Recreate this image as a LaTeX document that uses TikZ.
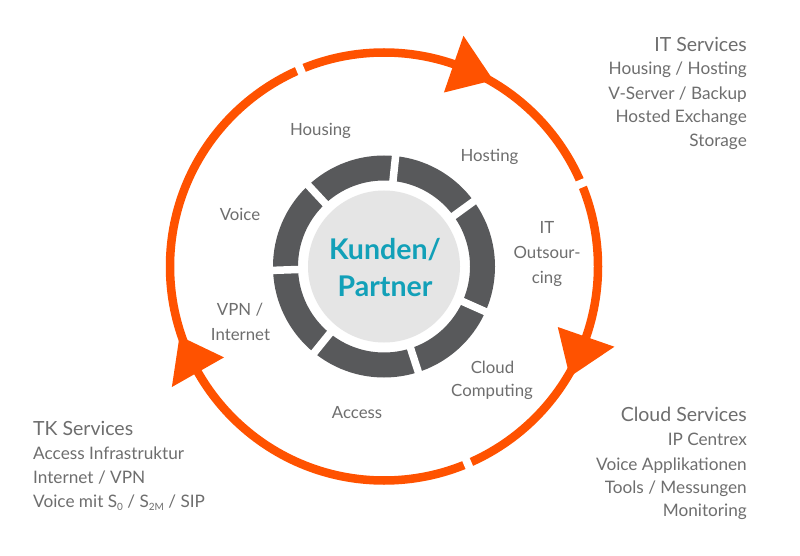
\documentclass[tikz,border=0pt]{standalone}
\usepackage{fontspec}
\setmainfont{Lato}
\usetikzlibrary{calc}
\definecolor{orng}{HTML}{FF5200}
\definecolor{segdark}{HTML}{58595B}
\definecolor{hubgray}{HTML}{E5E5E5}
\definecolor{teal}{HTML}{12A0B8}
\definecolor{txtgray}{HTML}{6E6E6E}
\tikzset{
  seglabel/.style={text=txtgray, font=\fontsize{16.8}{19}\selectfont, anchor=base, inner sep=0pt},
  headl/.style={text=txtgray, font=\fontsize{19.5}{22}\selectfont, inner sep=0pt},
  iteml/.style={text=txtgray, font=\fontsize{17.2}{20}\selectfont, inner sep=0pt},
  hubtext/.style={text=teal, font=\fontsize{28.5}{34}\bfseries\selectfont, anchor=base, inner sep=0pt},
}
\begin{document}
\begin{tikzpicture}[x=1pt,y=1pt]
\useasboundingbox (0,0) rectangle (800,555);
\fill[white] (0,0) rectangle (800,555);
\coordinate (C) at (384,288.5);

% inner segmented ring
\fill[segdark, even odd rule] (C) circle (111) (C) circle (86);
\foreach \a in {84,133,182,231,288,336,36}
  \draw[white, line width=7.5] ($(C)+(\a:80)$) -- ($(C)+(\a:118)$);
\fill[hubgray] (C) circle (76);

% outer orange ring
\draw[orng, line width=8.5] (C) circle (214);
\foreach \a in {113,22.8,-67}
  \draw[white, line width=8] ($(C)+(\a:204)$) -- ($(C)+(\a:224)$);
\foreach \b/\p in {71/59.6, -19.2/-30.7, 209.6/198.8}
  \fill[orng] ($(C)+(\p:216)$) -- ($(C)+(\b:244)$) -- ($(C)+(\b:184)$) -- cycle;

% hub text
\node[hubtext] (kunden) at (385,295) {Kunden/};
\node[hubtext] (partner) at (385,258.3) {Partner};

% segment labels
\node[seglabel] (housing) at (320.5,419) {Housing};
\node[seglabel] (hosting) at (489.5,393.3) {Hosting};
\node[seglabel] (voice) at (240,334.3) {Voice};
\node[seglabel] (it1) at (547,321) {IT};
\node[seglabel] (it2) at (547,296.5) {Outsour-};
\node[seglabel] (it3) at (547,272) {cing};
\node[seglabel] (vpn1) at (240,240) {VPN /};
\node[seglabel] (vpn2) at (240.5,215) {Internet};
\node[seglabel] (cloud1) at (492.5,182) {Cloud};
\node[seglabel] (cloud2) at (492,158.3) {Computing};
\node[seglabel] (access) at (357,137) {Access};

% IT services block
\node[headl, anchor=base east] (its) at (747,503.3) {IT Services};
\node[iteml, anchor=base east] (its1) at (747,480) {Housing / Hosting};
\node[iteml, anchor=base east] (its2) at (747,455) {V-Server / Backup};
\node[iteml, anchor=base east] (its3) at (747,432) {Hosted Exchange};
\node[iteml, anchor=base east] (its4) at (747,408.3) {Storage};

% Cloud services block
\node[headl, anchor=base east] (cs) at (747,133.3) {Cloud Services};
\node[iteml, anchor=base east] (cs1) at (747,110) {IP Centrex};
\node[iteml, anchor=base east] (cs2) at (747,85) {Voice Applikationen};
\node[iteml, anchor=base east] (cs3) at (747,62) {Tools / Messungen};
\node[iteml, anchor=base east] (cs4) at (747,38.3) {Monitoring};

% TK services block
\node[headl, anchor=base west] (tk) at (33,120) {TK Services};
\node[iteml, anchor=base west] (tk1) at (33,96) {Access Infrastruktur};
\node[iteml, anchor=base west] (tk2) at (33,72) {Internet / VPN};
\node[iteml, anchor=base west] (tk3) at (33,48) {Voice mit S\raisebox{-0.35ex}{\fontsize{10}{12}\selectfont 0} / S\raisebox{-0.35ex}{\fontsize{10}{12}\selectfont 2M} / SIP};
\end{tikzpicture}
\end{document}
